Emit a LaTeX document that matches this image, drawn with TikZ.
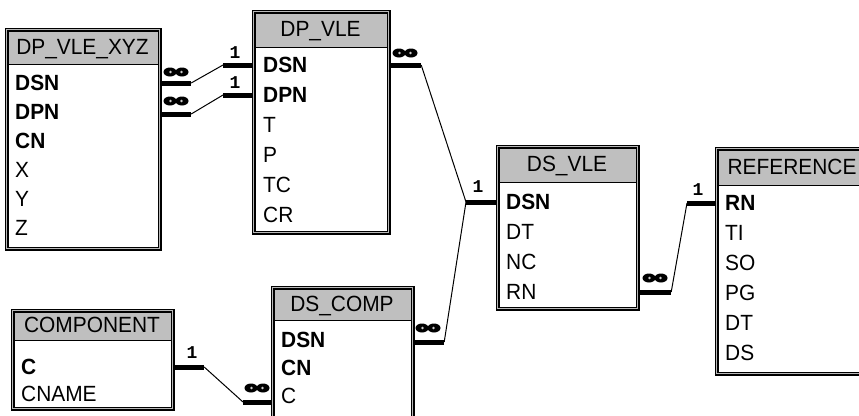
\documentclass[tikz,border=0pt]{standalone}
\usepackage{fontspec}
\setmainfont{Liberation Sans}[FakeStretch=0.95]
\newfontfamily\onefont{Liberation Mono}
\usetikzlibrary{positioning}

\tikzset{
    tbl/.style={draw=black, line width=1.2pt, double=gray!55, double distance=1.5pt,
        anchor=north west, inner sep=0pt,
        path picture={
            \fill[gray!50] (path picture bounding box.north west)
                rectangle ([yshift=-#1]path picture bounding box.north east);
            \draw[line width=1pt] ([yshift=-#1]path picture bounding box.north west)
                -- ([yshift=-#1]path picture bounding box.north east);
        }},
    hdr/.style={inner sep=0pt, text height=15.7pt, text depth=0pt,
        font=\fontsize{22}{26}\selectfont},
    fld/.style={anchor=west, inner sep=0pt, text height=15.7pt, text depth=0pt,
        font=\fontsize{22}{26}\selectfont},
    key/.style={fld, font=\fontsize{22}{26}\selectfont\bfseries},
    stub/.style={line width=5pt},
    link/.style={line width=1pt},
    one/.style={inner sep=0pt, font=\onefont\bfseries\fontsize{18}{18}\selectfont},
    manymark/.pic={
        \fill (-6pt,0pt) ellipse (6.5pt and 4.5pt) (6pt,0pt) ellipse (6.5pt and 4.5pt);
        \fill[gray!40] (-5.5pt,0pt) circle (1.3pt) (5.5pt,0pt) circle (1.3pt);
    }
}

\begin{document}
\begin{tikzpicture}[x=1pt,y=-1pt]
    \path[use as bounding box, clip] (0,0) rectangle (859,415);

    % tables
    \node[tbl=35pt, minimum width=153pt, minimum height=219pt] (xyz) at (6,29) {};
    \node[hdr] (xyzh) at (82.5,46.5) {DP\_VLE\_XYZ};
    \foreach \i/\f/\st in {1/DSN/key,2/DPN/key,3/CN/key,4/X/fld,5/Y/fld,6/Z/fld}
        \node[\st] (xyz\i) at (15,{54+29*\i}) {\f};

    \node[tbl=36pt, minimum width=135pt, minimum height=221pt] (dpv) at (253,11) {};
    \node[hdr] (dpvh) at (320.5,29) {DP\_VLE};
    \foreach \i/\f/\st in {1/DSN/key,2/DPN/key,3/T/fld,4/P/fld,5/TC/fld,6/CR/fld}
        \node[\st] (dpv\i) at (263,{35+30*\i}) {\f};

    \node[tbl=36pt, minimum width=140pt, minimum height=162pt] (dsv) at (497,146) {};
    \node[hdr] (dsvh) at (567,164) {DS\_VLE};
    \foreach \i/\f/\st in {1/DSN/key,2/DT/fld,3/NC/fld,4/RN/fld}
        \node[\st] (dsv\i) at (506,{172+30*\i}) {\f};

    \node[tbl=37pt, minimum width=150pt, minimum height=225pt] (ref) at (716,148) {};
    \node[hdr] (refh) at (792,166.5) {REFERENCE};
    \foreach \i/\f/\st in {1/RN/key,2/TI/fld,3/SO/fld,4/PG/fld,5/DT/fld,6/DS/fld}
        \node[\st] (ref\i) at (725,{173+30*\i}) {\f};

    \node[tbl=30pt, minimum width=160pt, minimum height=98pt] (cmp) at (12,310) {};
    \node[hdr] (cmph) at (92,325) {COMPONENT};
    \foreach \i/\f/\st in {1/C/key,2/CNAME/fld}
        \node[\st] (cmp\i) at (21,{340+27*\i}) {\f};

    \node[tbl=33pt, minimum width=140pt, minimum height=150pt] (dsc) at (272,287) {};
    \node[hdr] (dsch) at (342,303.5) {DS\_COMP};
    \foreach \i/\f/\st in {1/DSN/key,2/CN/key,3/C/fld}
        \node[\st] (dsc\i) at (281,{312+28*\i}) {\f};

    % relationships
    \draw[stub] (xyz.east |- xyz1) -- ++(31,0) coordinate (b1);
    \draw[stub] (dpv.west |- dpv1) -- ++(-30,0) coordinate (b2);
    \draw[link] (b1) -- (b2);

    \draw[stub] ([yshift=-2pt]xyz.east |- xyz2) -- ++(31,0) coordinate (b3);
    \draw[stub] (dpv.west |- dpv2) -- ++(-30,0) coordinate (b4);
    \draw[link] (b3) -- (b4);

    \draw[stub] (dpv.east |- dpv1) -- ++(32,0) coordinate (b5);
    \draw[stub] (dsv.west |- dsv1) -- ++(-31,0) coordinate (b6);
    \draw[link] (b5) -- (b6);

    \draw[stub] ([yshift=-2pt]dsc.east |- dsc1) -- ++(31,0) coordinate (b7);
    \draw[link] (b7) -- (b6);

    \draw[stub] (dsv.east |- dsv4) -- ++(33,0) coordinate (b8);
    \draw[stub] (ref.west |- ref1) -- ++(-29,0) coordinate (b9);
    \draw[link] (b8) -- (b9);

    \draw[stub] (cmp.east |- cmp1) -- ++(31,0) coordinate (b10);
    \draw[stub] ([yshift=-6pt]dsc.west |- dsc3) -- ++(-29,0) coordinate (b11);
    \draw[link] (b10) -- (b11);

    % cardinalities
    \pic (m1) at (176,72) {manymark};
    \pic (m2) at (176,101) {manymark};
    \pic (m3) at (405,53) {manymark};
    \pic (m4) at (428,328) {manymark};
    \pic (m5) at (655,278) {manymark};
    \pic (m6) at (257,388) {manymark};
    \node[one] (o1) at (235,53) {1};
    \node[one] (o2) at (235,83) {1};
    \node[one] (o3) at (478,187) {1};
    \node[one] (o4) at (698,190) {1};
    \node[one] (o5) at (192,353) {1};
\end{tikzpicture}
\end{document}
